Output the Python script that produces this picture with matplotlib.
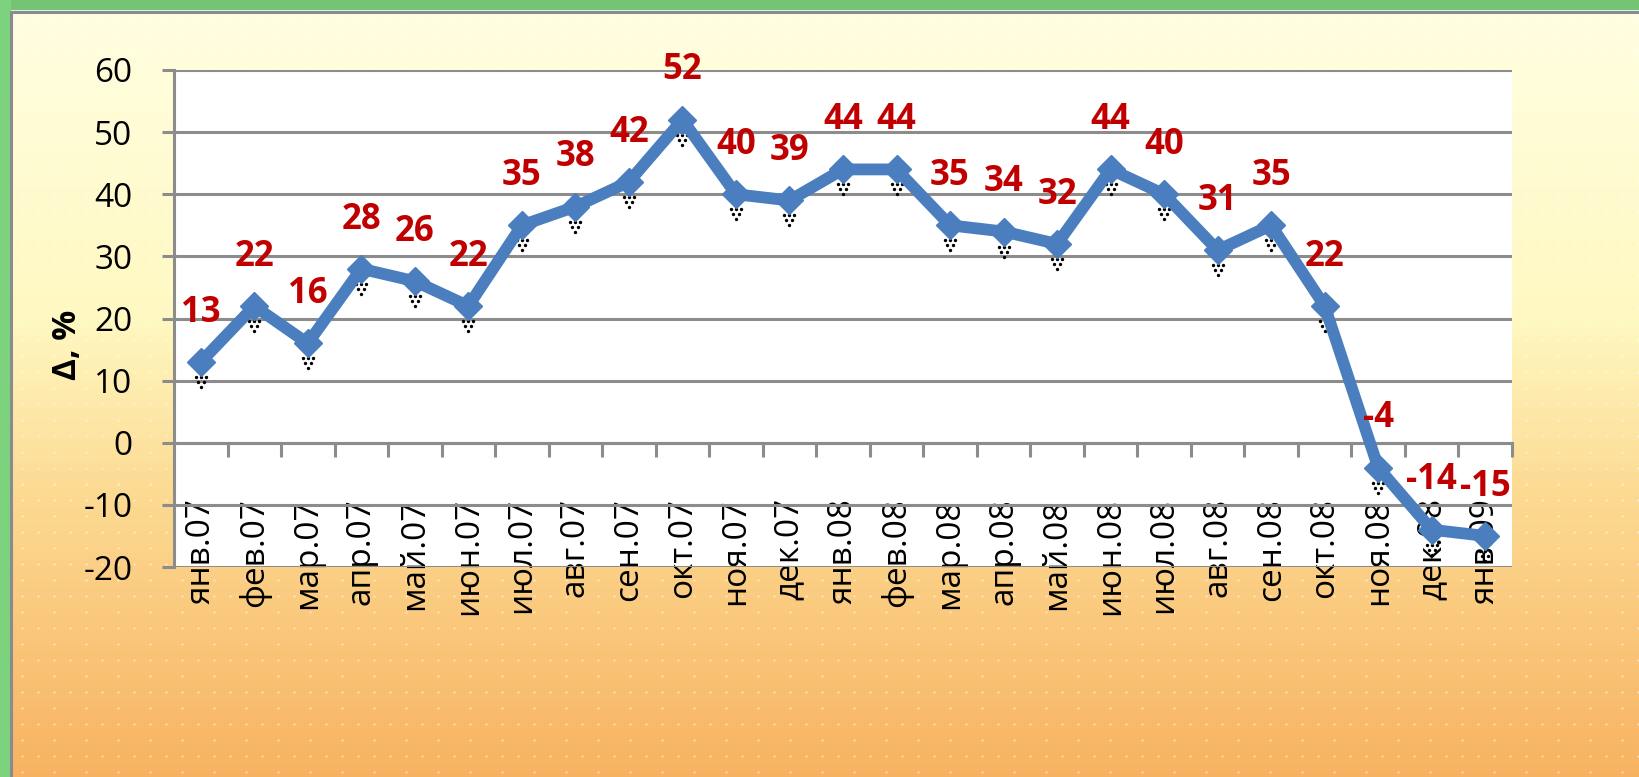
import numpy as np
import matplotlib
matplotlib.use('Agg')
import matplotlib.pyplot as plt
from matplotlib.colors import LinearSegmentedColormap
from matplotlib.transforms import offset_copy

plt.rcParams['font.family'] = ['Open Sans', 'DejaVu Sans']

# Данные
months = ['янв.07', 'фев.07', 'мар.07', 'апр.07', 'май.07', 'июн.07', 'июл.07',
          'авг.07', 'сен.07', 'окт.07', 'ноя.07', 'дек.07', 'янв.08', 'фев.08',
          'мар.08', 'апр.08', 'май.08', 'июн.08', 'июл.08', 'авг.08', 'сен.08',
          'окт.08', 'ноя.08', 'дек.08', 'янв.09']
delta = [13, 22, 16, 28, 26, 22, 35, 38, 42, 52, 40, 39, 44, 44,
         35, 34, 32, 44, 40, 31, 35, 22, -4, -14, -15]
yticks = [-20, -10, 0, 10, 20, 30, 40, 50, 60]

W, H = 1640, 777
fig = plt.figure(figsize=(W / 100, H / 100), dpi=100)

# Фон: градиент, точки, зелёная рамка
bg = fig.add_axes([0, 0, 1, 1], zorder=0)
bg.set_xlim(0, W)
bg.set_ylim(H, 0)
bg.axis('off')
cmap = LinearSegmentedColormap.from_list('bg', [
    (0.0, (1.0, 0.996, 0.88)),
    (0.40, (1.0, 0.975, 0.76)),
    (0.62, (0.99, 0.86, 0.58)),
    (1.0, (0.97, 0.70, 0.38))])
grad = np.linspace(0, 1, 256).reshape(-1, 1)
bg.imshow(grad, cmap=cmap, aspect='auto', extent=[13, W, H, 13], zorder=0)
dx, dy = [], []
for k, yy in enumerate(np.arange(20, H, 16)):
    step = 16 if k % 2 == 0 else 32
    for xx in np.arange(22, W, step):
        dx.append(xx)
        dy.append(yy)
bg.scatter(dx, dy, s=2.5, color='white', alpha=0.55, linewidths=0, zorder=1)
bg.add_patch(plt.Rectangle((0, 0), W, 9, color='#74c474', zorder=2))
bg.add_patch(plt.Rectangle((0, 0), 10, H, color='#7dd27d', zorder=2))
bg.plot([11.5, 11.5, W], [H, 11.5, 11.5], color='#8a8a92', lw=2.2, zorder=3)

# Основной график
ax = fig.add_axes([174 / W, 1 - 567 / H, (1512 - 174) / W, (567 - 70) / H], zorder=1)
ax.set_facecolor('white')
x = np.arange(len(months))
ax.plot(x, delta, color='#4a7ebf', lw=8.5, marker='D', markersize=14,
        zorder=5, clip_on=False)

# "тени" под маркерами
shadow = [(-5, -15), (0, -15), (5, -15), (-3, -20), (3, -20), (0, -25)]
for ox, oy in shadow:
    tr = offset_copy(ax.transData, fig=fig, x=ox, y=oy, units='dots')
    ax.scatter(x, delta, s=2, color='black', transform=tr, zorder=4, clip_on=False)

for xi, v in zip(x, delta):
    ax.annotate(str(v), (xi, v), xytext=(0, 29), textcoords='offset points',
                ha='center', va='baseline', fontsize=25, fontweight='bold',
                color='#c00000', zorder=6, annotation_clip=False)

ax.set_xlim(-0.5, len(months) - 0.5)
ax.set_ylim(-20, 60)
ax.set_yticks(yticks)
ax.set_yticklabels([str(t) for t in yticks])
ax.yaxis.grid(True, color='#8c8c8c', lw=2.2)
ax.set_axisbelow(True)
for s in ['top', 'right']:
    ax.spines[s].set_visible(False)
ax.spines['left'].set_color('#8c8c8c')
ax.spines['left'].set_linewidth(2.2)
ax.spines['bottom'].set_position(('data', 0))
ax.spines['bottom'].set_color('#8c8c8c')
ax.spines['bottom'].set_linewidth(2.2)
ax.tick_params(axis='y', length=9, width=2.2, color='#8c8c8c', pad=21,
               labelsize=24, labelcolor='black')
ax.set_xticks(x)
ax.set_xticklabels(months, rotation=90, ha='center', va='top')
ax.set_xticks(np.arange(0.5, len(months), 1), minor=True)
ax.tick_params(axis='x', which='major', length=0, pad=40, labelsize=24)
ax.tick_params(axis='x', which='minor', length=10, width=2.2, color='#8c8c8c')

fig.text(68 / W, 1 - 345 / H, 'Δ, %', rotation=90, ha='center', va='center',
         fontsize=24, fontweight='bold')

fig.savefig('out.png', dpi=100)
